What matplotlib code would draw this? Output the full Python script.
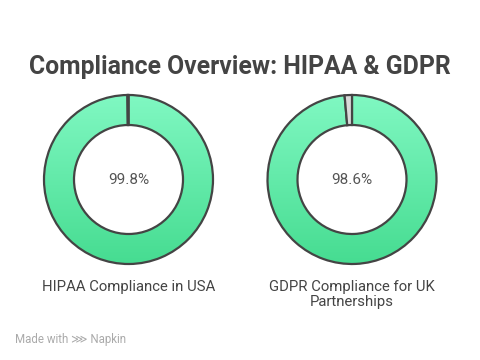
import matplotlib
matplotlib.use("Agg")
import matplotlib.pyplot as plt
import numpy as np
from matplotlib.colors import LinearSegmentedColormap

plt.rcParams['font.family'] = ['Roboto', 'DejaVu Sans']

title = "Compliance Overview: HIPAA & GDPR"
labels = ["HIPAA Compliance in USA", "GDPR Compliance for UK\nPartnerships"]
compliance = [99.8, 98.6]

fig = plt.figure(figsize=(4.8, 3.6), dpi=100)
ax = fig.add_axes([0, 0, 1, 1])
ax.set_xlim(0, 480)
ax.set_ylim(0, 360)
ax.set_aspect('equal')
ax.axis('off')

cmap = LinearSegmentedColormap.from_list('g', ['#46dc91', '#80f8c2'])
grad = np.linspace(0, 1, 256).reshape(-1, 1)

centers_x = [128.5, 352]
cy = 360 - 179.5
R = 84.5
W = 30

for cx, val, lab in zip(centers_x, compliance, labels):
    wedges, _ = ax.pie([val, 100 - val], center=(cx, cy), radius=R,
                       startangle=90, counterclock=False,
                       colors=['none', '#d9d9d9'],
                       wedgeprops=dict(width=W, edgecolor='#444444', linewidth=1.6))
    for w in wedges:
        w.set_zorder(3)
    img = ax.imshow(grad, extent=(cx - R, cx + R, cy - R, cy + R), origin='lower',
                    cmap=cmap, aspect='auto', zorder=2, interpolation='bilinear')
    img.set_clip_path(wedges[0])
    ax.text(cx, cy, f"{val}%", ha='center', va='center', fontsize=11, color='#555555', zorder=4)
    ax.text(cx, 360 - 280, lab, ha='center', va='top', fontsize=10.7, color='#444444',
            linespacing=1.1)

ax.set_xlim(0, 480)
ax.set_ylim(0, 360)
ax.text(240, 360 - 67, title, ha='center', va='center', fontsize=17.8,
        fontweight='bold', color='#444444')
ax.text(15, 360 - 340, "Made with \u22d9 Napkin", ha='left', va='center', fontsize=8.3,
        color='#aaaaaa', family=['Roboto', 'DejaVu Sans'])

fig.savefig('out.png', dpi=100)
